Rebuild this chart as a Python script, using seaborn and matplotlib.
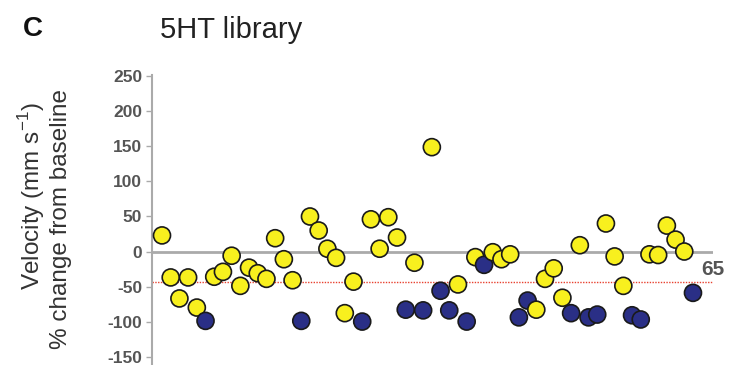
import numpy as np
import pandas as pd

import matplotlib
import matplotlib.pyplot as plt

import seaborn as sns

# % change in velocity from baseline, one value per compound (left to right)
velocity_change = [
    23, -37, -67, -37, -80, -99, -36, -29, -6, -49,
    -23, -31, -39, 19, -11, -41, -99, 50, 30, 4,
    -9, -88, -43, -100, 46, 4, 49, 20, -83, -16,
    -84, 149, -56, -84, -47, -100, -8, -19, -1, -11,
    -4, -94, -70, -83, -39, -24, -66, -88, 9, -94,
    -90, 40, -7, -49, -91, -97, -4, -5, 37, 17,
    0, -59,
]
# marker group for each compound
group = [
    'Y', 'Y', 'Y', 'Y', 'Y', 'B', 'Y', 'Y', 'Y', 'Y',
    'Y', 'Y', 'Y', 'Y', 'Y', 'Y', 'B', 'Y', 'Y', 'Y',
    'Y', 'Y', 'Y', 'B', 'Y', 'Y', 'Y', 'Y', 'B', 'Y',
    'B', 'Y', 'B', 'B', 'Y', 'B', 'Y', 'B', 'Y', 'Y',
    'Y', 'B', 'B', 'Y', 'Y', 'Y', 'Y', 'B', 'Y', 'B',
    'B', 'Y', 'Y', 'Y', 'B', 'B', 'Y', 'Y', 'Y', 'Y',
    'Y', 'B',
]
threshold = -44
n_label = '65'
y_ticks = [-150, -100, -50, 0, 50, 100, 150, 200, 250]

df = pd.DataFrame({
    'compound': np.arange(1, len(velocity_change) + 1),
    'change': velocity_change,
    'group': group,
})

sns.set_style('white')
plt.rcParams['font.family'] = ['Liberation Sans', 'DejaVu Sans']
plt.rcParams['axes.unicode_minus'] = False

fig = plt.figure(figsize=(7.29, 3.65), dpi=100)
ax = fig.add_axes([152 / 729, 0.0, 561 / 729, 290 / 365])

ax.axhline(0, color='#aaaaaa', lw=2, zorder=1)
ax.axhline(threshold, color='#e8412f', lw=1, ls=(0, (1, 1)), zorder=1)

sns.scatterplot(data=df, x='compound', y='change', hue='group',
                palette={'Y': '#f8f01e', 'B': '#2a2f86'},
                s=150, edgecolor='#1a1a1a', linewidth=1.2,
                legend=False, zorder=3, ax=ax)

ax.set_xlim(-0.15, 64.3)
ax.set_ylim(-162, 252)
ax.set_yticks(y_ticks)
ax.set_yticklabels([str(t) for t in y_ticks], fontsize=12.5,
                   fontweight='bold', color='#555555')
ax.set_xticks([])
ax.set_xlabel('')
ax.set_ylabel('')
ax.tick_params(axis='y', left=True, length=4, width=1, color='#aaaaaa', pad=3)

for side in ['top', 'right', 'bottom']:
    ax.spines[side].set_visible(False)
ax.spines['left'].set_color('#aaaaaa')
ax.spines['left'].set_linewidth(1.5)

ax.text(64.3, -25, n_label, ha='center', va='center', fontsize=15,
        fontweight='bold', color='#555555', clip_on=False)

fig.text(32 / 729, 1 - 196 / 365, r'Velocity (mm s$^{\mathregular{-1}}$)',
         rotation=90, ha='center', va='center', fontsize=17.5, color='#333333')
fig.text(61 / 729, 1 - 219 / 365, '% change from baseline',
         rotation=90, ha='center', va='center', fontsize=17.5, color='#333333')

fig.text(23 / 729, 1 - 36 / 365, 'C', fontsize=20, fontweight='bold',
         color='#111111', va='baseline')
fig.text(160 / 729, 1 - 38 / 365, '5HT library', fontsize=21,
         color='#222222', va='baseline')

fig.savefig('out.png', dpi=100)
